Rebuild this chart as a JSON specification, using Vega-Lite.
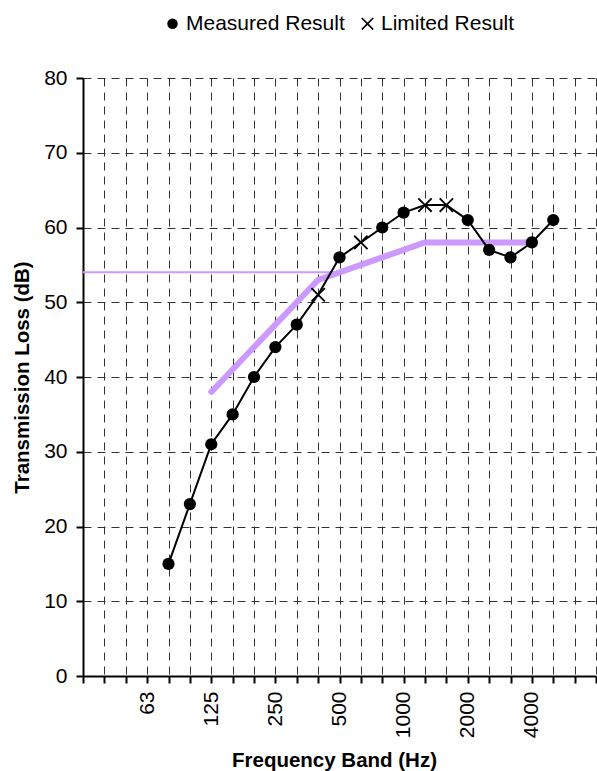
{
  "$schema": "https://vega.github.io/schema/vega-lite/v6.json",
  "width": 513,
  "height": 598,
  "autosize": {"type": "none"},
  "padding": {"left": 83, "top": 78, "right": 1, "bottom": 95},
  "datasets": {
    "rating": [
      {"freq": "31.5", "rw": 54},
      {"freq": "500", "rw": 54}
    ],
    "reference": [
      {"freq": "125", "ref": 38},
      {"freq": "160", "ref": 41},
      {"freq": "200", "ref": 44},
      {"freq": "250", "ref": 47},
      {"freq": "315", "ref": 50},
      {"freq": "400", "ref": 53},
      {"freq": "500", "ref": 54},
      {"freq": "630", "ref": 55},
      {"freq": "800", "ref": 56},
      {"freq": "1000", "ref": 57},
      {"freq": "1250", "ref": 58},
      {"freq": "1600", "ref": 58},
      {"freq": "2000", "ref": 58},
      {"freq": "2500", "ref": 58},
      {"freq": "3150", "ref": 58},
      {"freq": "4000", "ref": 58}
    ],
    "measured": [
      {"freq": "80", "tl": 15, "result": "Measured Result"},
      {"freq": "100", "tl": 23, "result": "Measured Result"},
      {"freq": "125", "tl": 31, "result": "Measured Result"},
      {"freq": "160", "tl": 35, "result": "Measured Result"},
      {"freq": "200", "tl": 40, "result": "Measured Result"},
      {"freq": "250", "tl": 44, "result": "Measured Result"},
      {"freq": "315", "tl": 47, "result": "Measured Result"},
      {"freq": "400", "tl": 51, "result": "Limited Result"},
      {"freq": "500", "tl": 56, "result": "Measured Result"},
      {"freq": "630", "tl": 58, "result": "Limited Result"},
      {"freq": "800", "tl": 60, "result": "Measured Result"},
      {"freq": "1000", "tl": 62, "result": "Measured Result"},
      {"freq": "1250", "tl": 63, "result": "Limited Result"},
      {"freq": "1600", "tl": 63, "result": "Limited Result"},
      {"freq": "2000", "tl": 61, "result": "Measured Result"},
      {"freq": "2500", "tl": 57, "result": "Measured Result"},
      {"freq": "3150", "tl": 56, "result": "Measured Result"},
      {"freq": "4000", "tl": 58, "result": "Measured Result"},
      {"freq": "5000", "tl": 61, "result": "Measured Result"}
    ]
  },
  "encoding": {
    "x": {
      "field": "freq",
      "type": "ordinal",
      "scale": {
        "type": "point",
        "padding": 0,
        "domain": ["31.5", "40", "50", "63", "80", "100", "125", "160", "200", "250", "315", "400", "500", "630", "800", "1000", "1250", "1600", "2000", "2500", "3150", "4000", "5000", "6300", "8000"]
      },
      "axis": {
        "title": "Frequency Band (Hz)",
        "labelExpr": "indexof(['63','125','250','500','1000','2000','4000'], datum.value) >= 0 ? datum.value : ''",
        "labelAngle": 270,
        "labelAlign": "right",
        "labelBaseline": "middle",
        "labelOverlap": false,
        "labelPadding": 8,
        "titlePadding": 13,
        "titleX": 251
      }
    }
  },
  "layer": [
    {
      "data": {"name": "rating"},
      "mark": {"type": "line", "color": "#CC99FF", "strokeWidth": 2},
      "encoding": {
        "y": {
          "field": "rw",
          "type": "quantitative",
          "scale": {"domain": [0, 80], "nice": false},
          "axis": {
            "title": "Transmission Loss (dB)",
            "values": [0, 10, 20, 30, 40, 50, 60, 70, 80],
            "labelPadding": 9,
            "titlePadding": 11
          }
        },
        "order": {"value": null}
      }
    },
    {
      "data": {"name": "reference"},
      "mark": {"type": "line", "color": "#CC99FF", "strokeWidth": 6, "strokeCap": "round", "strokeJoin": "round"},
      "encoding": {
        "y": {"field": "ref", "type": "quantitative"},
        "order": {"value": null}
      }
    },
    {
      "data": {"name": "measured"},
      "mark": {"type": "line", "color": "#000000", "strokeWidth": 2},
      "encoding": {
        "y": {"field": "tl", "type": "quantitative"},
        "order": {"value": null}
      }
    },
    {
      "data": {"name": "measured"},
      "mark": {"type": "point", "filled": true, "color": "#000000", "opacity": 1, "size": 150},
      "encoding": {
        "y": {"field": "tl", "type": "quantitative"},
        "shape": {
          "field": "result",
          "type": "nominal",
          "scale": {
            "domain": ["Measured Result", "Limited Result"],
            "range": ["circle", "M-1.2,-0.98L-0.98,-1.2L0,-0.22L0.98,-1.2L1.2,-0.98L0.22,0L1.2,0.98L0.98,1.2L0,0.22L-0.98,1.2L-1.2,0.98L-0.22,0Z"]
          },
          "legend": {
            "orient": "none",
            "legendX": 79,
            "legendY": -65,
            "direction": "horizontal",
            "title": null,
            "padding": 0,
            "labelFontSize": 21,
            "labelColor": "#000000",
            "labelOffset": 3,
            "columnPadding": 12,
            "symbolSize": 110,
            "symbolFillColor": "#000000",
            "symbolStrokeWidth": 0
          }
        }
      }
    }
  ],
  "config": {
    "font": "Liberation Sans",
    "view": {"stroke": null},
    "axis": {
      "domainColor": "#000000",
      "domainWidth": 2,
      "tickColor": "#000000",
      "tickWidth": 2,
      "tickSize": 7,
      "grid": true,
      "gridColor": "#333333",
      "gridDash": [8, 6],
      "gridWidth": 1,
      "labelFontSize": 21,
      "labelColor": "#000000",
      "titleFontSize": 20.5,
      "titleFontWeight": "bold",
      "titleColor": "#000000"
    }
  }
}
